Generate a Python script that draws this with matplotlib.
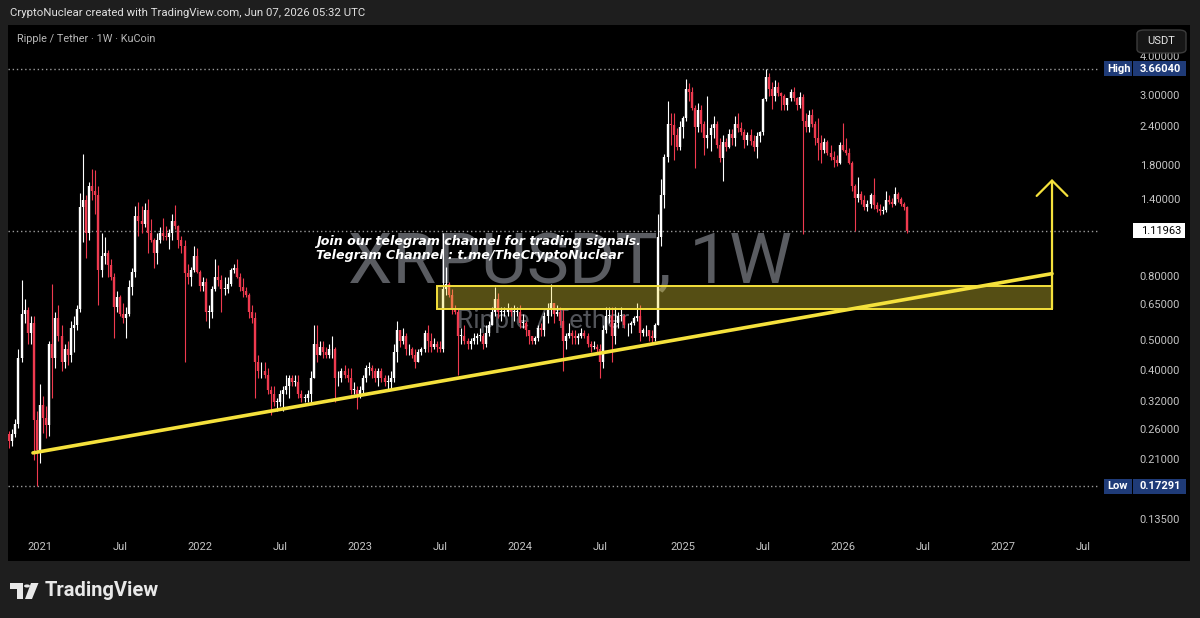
import numpy as np
import pandas as pd
import matplotlib
matplotlib.use('Agg')
import matplotlib.pyplot as plt
from matplotlib.patches import Rectangle, FancyBboxPatch, Circle, Polygon

W, H = 1200, 618

# ---- data: weekly XRP/USDT (KuCoin), first bar = week of 2020-10-26 ----
first_week = '2020-10-26'
first_open = 0.253

closes = [
    # 2020
    0.240, 0.254, 0.272, 0.440, 0.610, 0.625, 0.530, 0.570, 0.280, 0.225,
    # 2021
    0.313, 0.285, 0.270, 0.490, 0.440, 0.590, 0.520, 0.430, 0.470, 0.450, 0.550, 0.560, 0.630,
    1.33, 1.40, 1.10, 1.55, 1.50, 1.45, 0.840, 0.930, 0.950, 0.870, 0.800, 0.640, 0.690,
    0.610, 0.590, 0.610, 0.740, 0.830, 1.25, 1.20, 1.18, 1.30, 1.10, 1.05, 0.950, 1.05,
    1.10, 1.08, 1.07, 1.10, 1.20, 1.16, 1.05, 1.00, 0.820, 0.800, 0.840, 0.930, 0.830,
    # 2022
    0.750, 0.770, 0.620, 0.620, 0.730, 0.800, 0.780, 0.730, 0.730, 0.760, 0.840, 0.850, 0.800,
    0.740, 0.720, 0.700, 0.620, 0.590, 0.430, 0.400, 0.400, 0.390, 0.350, 0.340, 0.320, 0.320,
    0.340, 0.350, 0.360, 0.380, 0.370, 0.370, 0.340, 0.330, 0.330, 0.340, 0.380, 0.490, 0.450,
    0.480, 0.460, 0.450, 0.470, 0.470, 0.380, 0.380, 0.400, 0.390, 0.380, 0.350, 0.350, 0.340,
    # 2023
    0.350, 0.380, 0.410, 0.410, 0.400, 0.380, 0.400, 0.380, 0.370, 0.370, 0.380, 0.460, 0.540,
    0.500, 0.520, 0.470, 0.470, 0.450, 0.430, 0.460, 0.470, 0.530, 0.500, 0.480, 0.490, 0.480,
    0.470, 0.730, 0.760, 0.700, 0.630, 0.620, 0.520, 0.520, 0.500, 0.490, 0.500, 0.510, 0.520,
    0.520, 0.490, 0.530, 0.560, 0.620, 0.680, 0.620, 0.620, 0.620, 0.630, 0.620, 0.620, 0.620,
    # 2024
    0.570, 0.570, 0.540, 0.520, 0.500, 0.510, 0.550, 0.540, 0.600, 0.630, 0.660, 0.610, 0.620,
    0.580, 0.500, 0.520, 0.530, 0.520, 0.510, 0.520, 0.530, 0.520, 0.490, 0.480, 0.480, 0.470,
    0.430, 0.540, 0.600, 0.600, 0.520, 0.570, 0.600, 0.600, 0.560, 0.560, 0.570, 0.590, 0.600,
    0.530, 0.540, 0.540, 0.520, 0.510, 0.560, 1.07, 1.45, 1.92, 2.45, 2.43, 2.25, 2.06, 2.40,
    # 2025
    2.55, 3.15, 3.10, 2.75, 2.40, 2.70, 2.45, 2.20, 2.25, 2.38, 2.45, 2.10, 1.90,
    2.15, 2.07, 2.28, 2.20, 2.45, 2.38, 2.30, 2.18, 2.26, 2.16, 2.06, 2.24, 2.31,
    2.93, 3.45, 3.15, 3.00, 3.20, 3.07, 3.00, 2.80, 2.95, 3.10, 2.95, 2.80, 2.98,
    2.50, 2.40, 2.62, 2.45, 2.20, 2.12, 2.02, 2.14, 1.98, 1.92, 1.88, 1.84, 2.10,
    # 2026
    2.02, 1.98, 1.84, 1.55, 1.42, 1.47, 1.40, 1.33, 1.36, 1.45, 1.35, 1.31,
    1.29, 1.30, 1.40, 1.38, 1.36, 1.47, 1.41, 1.36, 1.33, 1.11963,
]

highs = [
    # 2020
    0.258, 0.262, 0.282, 0.470, 0.780, 0.680, 0.640, 0.600, 0.600, 0.300,
    # 2021
    0.365, 0.335, 0.310, 0.500, 0.760, 0.620, 0.650, 0.560, 0.490, 0.500, 0.580, 0.600, 0.650,
    1.48, 1.96, 1.45, 1.60, 1.76, 1.75, 1.55, 1.10, 1.07, 0.970, 0.910, 0.820, 0.720,
    0.700, 0.660, 0.640, 0.780, 0.850, 1.34, 1.38, 1.34, 1.37, 1.41, 1.22, 1.06, 1.10,
    1.15, 1.23, 1.16, 1.13, 1.27, 1.35, 1.17, 1.08, 1.05, 0.880, 0.860, 1.00, 0.990,
    # 2022
    0.840, 0.800, 0.790, 0.650, 0.750, 0.910, 0.870, 0.810, 0.800, 0.800, 0.850, 0.880, 0.910,
    0.820, 0.790, 0.740, 0.710, 0.650, 0.620, 0.450, 0.430, 0.430, 0.410, 0.360, 0.360, 0.330,
    0.350, 0.360, 0.390, 0.390, 0.390, 0.390, 0.390, 0.350, 0.340, 0.350, 0.400, 0.560, 0.560,
    0.500, 0.500, 0.480, 0.490, 0.520, 0.480, 0.400, 0.410, 0.420, 0.410, 0.410, 0.370, 0.360,
    # 2023
    0.360, 0.390, 0.420, 0.430, 0.420, 0.410, 0.410, 0.410, 0.390, 0.390, 0.400, 0.490, 0.580,
    0.540, 0.550, 0.530, 0.490, 0.480, 0.470, 0.470, 0.480, 0.540, 0.560, 0.530, 0.510, 0.500,
    0.500, 1.10, 0.860, 0.770, 0.730, 0.650, 0.630, 0.550, 0.560, 0.510, 0.510, 0.530, 0.530,
    0.550, 0.530, 0.560, 0.580, 0.640, 0.740, 0.710, 0.640, 0.640, 0.660, 0.640, 0.650, 0.640,
    # 2024
    0.650, 0.610, 0.580, 0.540, 0.520, 0.520, 0.560, 0.570, 0.620, 0.660, 0.760, 0.660, 0.650,
    0.640, 0.630, 0.530, 0.570, 0.540, 0.540, 0.530, 0.550, 0.540, 0.530, 0.500, 0.500, 0.490,
    0.490, 0.560, 0.640, 0.640, 0.640, 0.640, 0.620, 0.640, 0.610, 0.570, 0.580, 0.600, 0.660,
    0.650, 0.550, 0.560, 0.540, 0.540, 0.570, 1.27, 1.63, 1.96, 2.90, 2.65, 2.65, 2.38, 2.50,
    # 2025
    2.60, 3.40, 3.30, 3.20, 2.80, 2.85, 2.80, 2.50, 3.00, 2.45, 2.60, 2.50, 2.20,
    2.25, 2.20, 2.35, 2.35, 2.60, 2.65, 2.48, 2.35, 2.30, 2.35, 2.25, 2.30, 2.32,
    2.95, 3.66, 3.55, 3.33, 3.38, 3.33, 3.10, 3.05, 2.95, 3.15, 3.20, 2.98, 3.10,
    3.05, 2.64, 2.70, 2.72, 2.50, 2.55, 2.25, 2.20, 2.18, 2.10, 2.00, 1.95, 2.15,
    # 2026
    2.47, 2.21, 2.05, 1.86, 1.58, 1.66, 1.50, 1.45, 1.40, 1.48, 1.65, 1.38,
    1.36, 1.34, 1.50, 1.45, 1.42, 1.54, 1.49, 1.43, 1.38, 1.34,
]

lows = [
    # 2020
    0.228, 0.232, 0.248, 0.265, 0.430, 0.570, 0.490, 0.490, 0.210, 0.173,
    # 2021
    0.205, 0.255, 0.245, 0.250, 0.330, 0.410, 0.500, 0.400, 0.410, 0.420, 0.430, 0.460, 0.540,
    0.620, 1.03, 0.920, 1.05, 1.40, 1.27, 0.650, 0.800, 0.880, 0.800, 0.780, 0.510, 0.620,
    0.600, 0.570, 0.510, 0.600, 0.700, 0.800, 1.08, 1.10, 1.15, 0.950, 1.03, 0.850, 0.880,
    1.02, 1.05, 1.05, 0.980, 1.05, 1.13, 0.990, 0.950, 0.430, 0.760, 0.750, 0.830, 0.820,
    # 2022
    0.720, 0.720, 0.580, 0.550, 0.590, 0.720, 0.750, 0.620, 0.700, 0.710, 0.750, 0.820, 0.790,
    0.720, 0.690, 0.690, 0.590, 0.570, 0.330, 0.380, 0.380, 0.380, 0.340, 0.290, 0.310, 0.300,
    0.310, 0.300, 0.340, 0.330, 0.360, 0.360, 0.330, 0.320, 0.320, 0.320, 0.320, 0.380, 0.430,
    0.460, 0.440, 0.440, 0.440, 0.440, 0.320, 0.360, 0.370, 0.380, 0.370, 0.340, 0.340, 0.305,
    # 2023
    0.330, 0.340, 0.370, 0.390, 0.380, 0.370, 0.360, 0.370, 0.360, 0.350, 0.350, 0.370, 0.430,
    0.480, 0.490, 0.450, 0.450, 0.440, 0.410, 0.430, 0.450, 0.460, 0.460, 0.460, 0.470, 0.460,
    0.460, 0.460, 0.700, 0.690, 0.610, 0.610, 0.390, 0.490, 0.490, 0.470, 0.470, 0.490, 0.490,
    0.500, 0.470, 0.480, 0.520, 0.560, 0.600, 0.590, 0.580, 0.600, 0.600, 0.600, 0.580, 0.600,
    # 2024
    0.550, 0.550, 0.520, 0.490, 0.490, 0.490, 0.500, 0.520, 0.520, 0.570, 0.600, 0.570, 0.600,
    0.560, 0.400, 0.470, 0.510, 0.490, 0.490, 0.490, 0.510, 0.510, 0.480, 0.460, 0.470, 0.460,
    0.380, 0.410, 0.530, 0.570, 0.430, 0.490, 0.550, 0.580, 0.550, 0.520, 0.530, 0.560, 0.580,
    0.500, 0.520, 0.520, 0.500, 0.490, 0.500, 0.560, 1.00, 1.32, 1.85, 2.10, 1.88, 2.02, 2.02,
    # 2025
    2.20, 2.50, 2.90, 2.70, 1.77, 2.30, 2.30, 1.95, 2.05, 2.00, 2.20, 2.05, 1.85,
    1.61, 2.00, 2.05, 2.10, 2.08, 2.30, 2.25, 2.05, 2.10, 2.10, 2.00, 1.91, 2.15,
    2.25, 2.90, 3.00, 2.72, 2.90, 3.00, 2.70, 2.70, 2.70, 2.90, 2.90, 2.70, 2.75,
    1.09, 2.30, 2.30, 2.40, 2.10, 1.88, 1.84, 1.98, 1.95, 1.88, 1.78, 1.80, 1.82,
    # 2026
    2.00, 1.95, 1.82, 1.50, 1.12, 1.38, 1.36, 1.30, 1.29, 1.32, 1.31, 1.28,
    1.26, 1.27, 1.28, 1.36, 1.33, 1.35, 1.38, 1.34, 1.30, 1.10,
]

price_ticks = [4.0, 3.0, 2.4, 1.8, 1.4, 0.8, 0.65, 0.5, 0.4, 0.32, 0.26, 0.21, 0.135]
time_ticks = ['2021-01-04', '2021-07-05', '2022-01-03', '2022-07-04', '2023-01-02',
              '2023-07-03', '2024-01-01', '2024-07-01', '2025-01-06', '2025-07-07',
              '2026-01-05', '2026-07-06', '2027-01-04', '2027-07-05']
time_labels = ['2021', 'Jul', '2022', 'Jul', '2023', 'Jul', '2024', 'Jul',
               '2025', 'Jul', '2026', 'Jul', '2027', 'Jul']

high_price = 3.66040
low_price = 0.17291
last_price = 1.11963

# drawings
zone_low, zone_high = 0.632, 0.748
zone_start, zone_end = '2023-06-26', '2027-04-26'
trend_start, trend_start_price = '2020-12-19', 0.2205
trend_end, trend_end_price = '2027-04-26', 0.818
target_price = 1.635

# ---- colours ----
BG = '#1e1e1e'
UP = '#ffffff'
DOWN = '#ef3a4f'
YELLOW = '#f5e13c'
LABEL = '#c4c4c4'
BLUE = '#1f3b78'

base = pd.Timestamp('2021-01-04')


def days(s):
    return (pd.Timestamp(s) - base).days


def fx(x):
    return x / W


def fy(y):
    return 1 - y / H


opens = [first_open] + closes[:-1]
weeks = pd.date_range(first_week, periods=len(closes), freq='7D')
xd = np.array([(w - base).days for w in weeks], dtype=float)
o = np.array(opens)
c = np.array(closes)
hi = np.maximum.reduce([np.array(highs), o, c])
lo = np.minimum.reduce([np.array(lows), o, c])

plt.rcParams['font.family'] = ['Roboto', 'DejaVu Sans']

fig = plt.figure(figsize=(W / 100, H / 100), dpi=100, facecolor=BG)

# black chart panel
fig.add_artist(Rectangle((fx(7.5), fy(561)), (1190 - 7.5) / W, (561 - 25) / H,
                         transform=fig.transFigure, facecolor='black',
                         edgecolor='none', zorder=-5))

ax = fig.add_axes([fx(7.5), fy(561), (1100 - 7.5) / W, (561 - 25) / H])
ax.set_facecolor('black')
ax.set_yscale('log')
ax.set_ylim(0.09999, 5.043)
ax.set_xlim(-73.96, 2412.2)
ax.axis('off')

# watermark
ax.text(fx(348), fy(283), 'XRPUSDT, 1W', transform=fig.transFigure, fontsize=51,
        color='#5a5c61', ha='left', va='baseline', zorder=0)
ax.text(fx(457), fy(328), 'Ripple / Tether', transform=fig.transFigure, fontsize=19,
        color='#525459', ha='left', va='baseline', zorder=0)

# dotted reference lines
for p in (high_price, last_price, low_price):
    ax.axhline(p, color='#9a9a9a', lw=1, linestyle=(0, (1, 2)), zorder=1)

# candles
up = c >= o
col = np.where(up, UP, DOWN)
ax.vlines(xd, lo, hi, colors=col, lw=0.8, zorder=2)
btm = np.minimum(o, c)
top = np.maximum(np.maximum(o, c), btm * 1.006)
ax.vlines(xd, btm, top, colors=col, lw=1.7, zorder=3)

# support zone
z0, z1 = days(zone_start), days(zone_end)
ax.add_patch(Rectangle((z0, zone_low), z1 - z0, zone_high - zone_low,
                       facecolor=YELLOW, alpha=0.35, edgecolor='none', zorder=4))
ax.add_patch(Rectangle((z0, zone_low), z1 - z0, zone_high - zone_low,
                       facecolor='none', edgecolor=YELLOW, lw=1.4, zorder=4))

# rising trend line
ax.plot([days(trend_start), days(trend_end)], [trend_start_price, trend_end_price],
        color=YELLOW, lw=2.6, solid_capstyle='round', zorder=5)

# target arrow
ax.annotate('', xy=(z1, target_price), xytext=(z1, zone_low),
            arrowprops=dict(arrowstyle='->,head_length=0.85,head_width=0.85',
                            color=YELLOW, lw=1.6, mutation_scale=13,
                            shrinkA=0, shrinkB=0), zorder=5)

# telegram note
ax.text(fx(316), fy(241), 'Join our telegram channel for trading signals.',
        transform=fig.transFigure, fontsize=9.1, family='DejaVu Sans',
        fontweight='bold', style='italic', color='white', va='center', zorder=6)
ax.text(fx(316), fy(256), 'Telegram Channel : t.me/TheCryptoNuclear',
        transform=fig.transFigure, fontsize=9.1, family='DejaVu Sans',
        fontweight='bold', style='italic', color='white', va='center', zorder=6)


def ypix(p):
    return H - ax.transData.transform((0, p))[1]


def xpix(d):
    return ax.transData.transform((d, 1))[0]


# price scale labels
for p in price_ticks:
    fig.text(fx(1180), fy(ypix(p)), f'{p:.5f}', ha='right', va='center',
             fontsize=8, color=LABEL, zorder=2)

# high / low tags
for name, p in (('High', high_price), ('Low', low_price)):
    yc = ypix(p)
    fig.add_artist(Rectangle((fx(1103.5), fy(yc + 7.5)), 28 / W, 15 / H,
                             transform=fig.transFigure, facecolor=BLUE,
                             edgecolor='none', zorder=4))
    fig.add_artist(Rectangle((fx(1132.5), fy(yc + 7.5)), 53 / W, 15 / H,
                             transform=fig.transFigure, facecolor=BLUE,
                             edgecolor='none', zorder=4))
    fig.text(fx(1107), fy(yc), name, ha='left', va='center', fontsize=8,
             fontweight='bold', color='white', zorder=5)
    fig.text(fx(1181), fy(yc), f'{p:.5f}', ha='right', va='center', fontsize=8,
             fontweight='bold', color='white', zorder=5)

# last price tag
yc = ypix(last_price)
fig.add_artist(Rectangle((fx(1133), fy(yc + 7.5)), 52 / W, 15 / H,
                         transform=fig.transFigure, facecolor='white',
                         edgecolor='none', zorder=4))
fig.text(fx(1181), fy(yc), f'{last_price:.5f}', ha='right', va='center',
         fontsize=8, color='black', zorder=5)

# USDT button
fig.add_artist(FancyBboxPatch((fx(1137), fy(53)), 49 / W, 23 / H,
                              boxstyle='round,pad=0,rounding_size=0.006',
                              transform=fig.transFigure, facecolor='#161616',
                              edgecolor='#3c3c3c', lw=1, zorder=4))
fig.text(fx(1161.5), fy(41.5), 'USDT', ha='center', va='center', fontsize=8,
         color='#e6e6e6', zorder=5)

# time axis labels
for t, lab in zip(time_ticks, time_labels):
    fig.text(fx(xpix(days(t))), fy(547), lab, ha='center', va='center',
             fontsize=8, color=LABEL, zorder=2)

# header and legend
fig.text(fx(10), fy(13), 'CryptoNuclear created with TradingView.com, Jun 07, 2026 05:32 UTC',
         ha='left', va='center', fontsize=8.2, color='#e0e0e0')
fig.text(fx(17), fy(39), 'Ripple / Tether \u00b7 1W \u00b7 KuCoin', ha='left', va='center',
         fontsize=7.8, color='#b8b8b8', zorder=5)

# footer logo
logo = '#e8e8e8'
fig.add_artist(Polygon([(fx(10), fy(583)), (fx(23), fy(583)), (fx(23), fy(599)),
                        (fx(17), fy(599)), (fx(17), fy(589)), (fx(10), fy(589))],
                       closed=True, transform=fig.transFigure, facecolor=logo,
                       edgecolor='none'))
fig.add_artist(Circle((fx(27), fy(586)), 3 / W, transform=fig.transFigure,
                      facecolor=logo, edgecolor='none'))
fig.add_artist(Polygon([(fx(31), fy(583)), (fx(38.5), fy(583)), (fx(32), fy(599)),
                        (fx(25), fy(599))], closed=True, transform=fig.transFigure,
                       facecolor=logo, edgecolor='none'))
fig.text(fx(45), fy(591), 'TradingView', ha='left', va='center', fontsize=14.5,
         fontweight='bold', color=logo)

fig.savefig('out.png', dpi=100, facecolor=BG)
